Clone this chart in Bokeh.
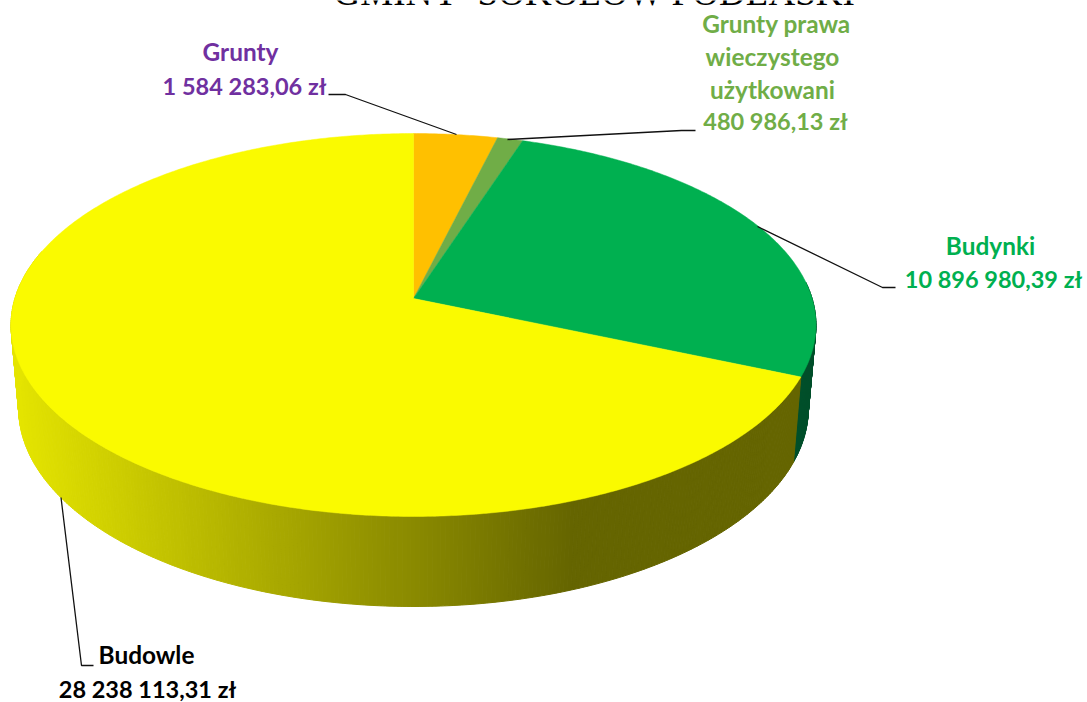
import math
from bokeh.plotting import figure
from bokeh.models import Range1d, ColumnDataSource
from bokeh.core.properties import value
from bokeh.embed import file_html
from bokeh.resources import INLINE

# ---- data ----
categories = ["Grunty", "Grunty prawa wieczystego użytkowani", "Budynki", "Budowle"]
amounts = [1584283.06, 480986.13, 10896980.39, 28238113.31]
amount_labels = ["1 584 283,06 zł", "480 986,13 zł", "10 896 980,39 zł", "28 238 113,31 zł"]
title_text = "GMINY\u00a0 SOKOŁÓW PODLASKI"

# ---- style ----
top_colors = ["#FFC000", "#70AD47", "#00B050", "#FAFA00"]
label_colors = ["#7030A0", "#70AD47", "#00B050", "#000000"]
W, H = 1087, 702
K = 0.1384
TOP = dict(cx=413.0, cy=298.0, a=398.6, b=187.8)
LOW = dict(cx=413.0, cy=380.6, a=391.0, b=194.2)


def project(theta_deg, plane):
    t = math.radians(theta_deg)
    x, y = math.sin(t), math.cos(t)
    w = 1 + K * y
    return plane["cx"] + plane["a"] * x / w, plane["cy"] - plane["b"] * y / w


def arc(t0, t1, plane, step=0.5):
    n = max(2, int(abs(t1 - t0) / step) + 1)
    pts = [project(t0 + (t1 - t0) * i / (n - 1), plane) for i in range(n)]
    return [p[0] for p in pts], [p[1] for p in pts]


def wall_shade(base, sx):
    f = min(1.0, max(0.0, (sx - 11) / 560))
    top = 0.92 - (0.92 - 0.404) * f
    return "#%02x%02x%02x" % tuple(int(round(c * top)) for c in base)


total = sum(amounts)
edges = [0.0]
for v in amounts:
    edges.append(edges[-1] + 360.0 * v / total)

p = figure(width=W, height=H, x_range=Range1d(0, W), y_range=Range1d(H, 0),
           output_backend="svg", toolbar_location=None, min_border=0)
p.axis.visible = False
p.grid.visible = False
p.outline_line_color = None
p.background_fill_color = "white"

# side walls, back to front
xs, ys, cols = [], [], []
for i in range(0, 60):
    t0 = 85 + (edges[3] - 85) * i / 60
    t1 = 85 + (edges[3] - 85) * (i + 1) / 60
    a, b = project(t0, TOP), project(t1, TOP)
    c, d = project(t1, LOW), project(t0, LOW)
    xs.append([a[0], b[0], c[0], d[0]])
    ys.append([a[1], b[1], c[1], d[1]])
    cols.append("#004F2A")
steps = 320
for i in range(steps):
    t0 = edges[3] + (285 - edges[3]) * i / steps
    t1 = edges[3] + (285 - edges[3]) * (i + 1) / steps
    a, b = project(t0, TOP), project(t1, TOP)
    c, d = project(t1, LOW), project(t0, LOW)
    xs.append([a[0], b[0], c[0], d[0]])
    ys.append([a[1], b[1], c[1], d[1]])
    cols.append(wall_shade((250, 250, 0), (a[0] + b[0] + c[0] + d[0]) / 4))
src = ColumnDataSource(dict(xs=xs, ys=ys, c=cols))
p.patches("xs", "ys", source=src, fill_color="c", line_color="c", line_width=1)

# top face
apex = (TOP["cx"], TOP["cy"])
for i, col in enumerate(top_colors):
    ax, ay = arc(edges[i], edges[i + 1], TOP)
    p.patch([apex[0]] + ax, [apex[1]] + ay, fill_color=col, line_color=col, line_width=0.5)

# leader lines
leaders = [
    ([328, 345, 456], [94, 94, 134]),
    ([507, 681, 695], [139, 130, 130]),
    ([757, 882, 895], [226, 287, 287]),
    ([60.5, 81, 93], [497, 665, 665]),
]
for lx, ly in leaders:
    p.line(lx, ly, line_color="#111111", line_width=1.3)

# labels
font = value("Lato")
def label(x, y, txt, col, size="23.5px"):
    p.text([x], [y], text=[txt], text_color=col, text_font=font, text_font_size=size,
           text_font_style="bold", text_align="center", text_baseline="middle")

WORD = "24.4px"
label(240, 51, categories[0], label_colors[0], WORD)
label(244, 85, amount_labels[0], label_colors[0])
label(776, 23, "Grunty prawa", label_colors[1], WORD)
label(772, 56, "wieczystego", label_colors[1], WORD)
label(772, 89, "użytkowani", label_colors[1], WORD)
label(775, 120, amount_labels[1], label_colors[1])
label(1004 - 14, 245, categories[2], label_colors[2], WORD)
label(993, 278, amount_labels[2], label_colors[2])
label(146, 654, categories[3], label_colors[3], WORD)
label(147, 688, amount_labels[3], label_colors[3])

p.text([594], [-8], text=[title_text], text_color="#000000", text_font=value("Liberation Serif"),
       text_font_size="37.1px", text_align="center", text_baseline="alphabetic")

open("out.html", "w").write(file_html(p, INLINE))
